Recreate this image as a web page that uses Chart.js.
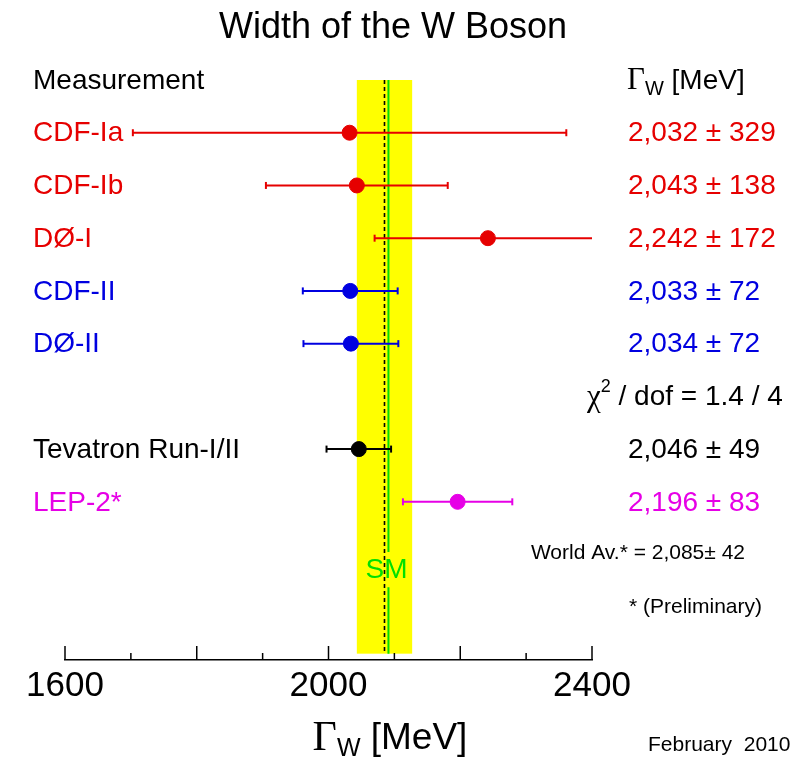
<!DOCTYPE html>
<html>
<head>
<meta charset="utf-8">
<script src="https://cdn.jsdelivr.net/npm/chart.js@4.4.1/dist/chart.umd.min.js"></script>
<style>
html, body { margin: 0; padding: 0; background: #fff; }
#wrap { width: 800px; height: 767px; }
</style>
</head>
<body>
<div id="wrap"><canvas id="wChart"></canvas></div>
<script>
const names = ['CDF-Ia', 'CDF-Ib', 'DØ-I', 'CDF-II', 'DØ-II', 'Tevatron Run-I/II', 'LEP-2*'];
const values = [2032, 2043, 2242, 2033, 2034, 2046, 2196];
const errors = [329, 138, 172, 72, 72, 49, 83];
const rows = [1, 2, 3, 4, 5, 7, 8];
const colors = ['#e60000', '#e60000', '#e60000', '#0000e0', '#0000e0', '#000000', '#e600e6'];
const worldAvg = 2085;
const worldErr = 42;
const smValue = 2091;
const xTicks = [1600, 2000, 2400];

const SANS = '"Liberation Sans", Arial, sans-serif';
const SERIF = '"Liberation Serif", "Times New Roman", serif';

// error bars: one line per measurement, vertical caps at both ends
const barSets = names.map((n, i) => ({
    type: 'line',
    data: [{ x: values[i] - errors[i], y: rows[i] }, { x: values[i] + errors[i], y: rows[i] }],
    borderColor: colors[i],
    borderWidth: 2,
    pointStyle: 'line',
    rotation: 90,
    pointRadius: 3.5,
    pointBorderColor: colors[i],
    pointBorderWidth: 2,
    order: 1
}));

const centerSet = {
    type: 'scatter',
    data: values.map((v, i) => ({ x: v, y: rows[i] })),
    pointRadius: 7.5,
    pointBackgroundColor: colors,
    pointBorderColor: colors,
    order: 0
};

const avgLine = {
    type: 'line',
    data: [{ x: worldAvg, y: 0 }, { x: worldAvg, y: 10.88 }],
    borderColor: '#000',
    borderWidth: 1.6,
    borderDash: [4, 3],
    pointRadius: 0,
    order: 3
};
const smLineTop = {
    type: 'line',
    data: [{ x: smValue, y: 0 }, { x: smValue, y: 8.95 }],
    borderColor: '#00e000',
    borderWidth: 2,
    pointRadius: 0,
    order: 2
};
const smLineBottom = {
    type: 'line',
    data: [{ x: smValue, y: 9.62 }, { x: smValue, y: 10.88 }],
    borderColor: '#00e000',
    borderWidth: 2,
    pointRadius: 0,
    order: 2
};

function richText(ctx, x, y, parts, align) {
    let w = 0;
    parts.forEach(p => { ctx.font = p.f; w += ctx.measureText(p.t).width; });
    let cx = align === 'center' ? x - w / 2 : x;
    ctx.textAlign = 'left';
    ctx.textBaseline = 'middle';
    parts.forEach(p => {
        ctx.font = p.f;
        ctx.fillStyle = p.c || '#000';
        ctx.fillText(p.t, cx, y + (p.dy || 0));
        cx += ctx.measureText(p.t).width;
    });
}

const bandPlugin = {
    id: 'band',
    beforeDatasetsDraw(chart) {
        const { ctx, chartArea, scales: { x, y } } = chart;
        const x0 = x.getPixelForValue(worldAvg - worldErr);
        const x1 = x.getPixelForValue(worldAvg + worldErr);
        const yb = y.getPixelForValue(10.88);
        ctx.save();
        ctx.fillStyle = '#ffff00';
        ctx.fillRect(x0, chartArea.top, x1 - x0, yb - chartArea.top);
        ctx.restore();
    }
};

const textPlugin = {
    id: 'texts',
    afterDraw(chart) {
        const { ctx, chartArea, scales: { x, y } } = chart;
        ctx.save();

        // upward ticks on the x axis
        ctx.strokeStyle = '#000';
        ctx.lineWidth = 1.5;
        for (let v = 1600; v <= 2400; v += 100) {
            const px = x.getPixelForValue(v);
            const len = v % 200 === 0 ? 14 : 7;
            ctx.beginPath();
            ctx.moveTo(px, chartArea.bottom);
            ctx.lineTo(px, chartArea.bottom - len);
            ctx.stroke();
        }

        ctx.fillStyle = '#000';
        ctx.textBaseline = 'middle';
        ctx.textAlign = 'center';
        ctx.font = '36px ' + SANS;
        ctx.fillText('Width of the W Boson', 393, 28);

        ctx.textAlign = 'left';
        ctx.font = '28px ' + SANS;
        ctx.fillText('Measurement', 33, y.getPixelForValue(0) + 1);
        richText(ctx, 627, y.getPixelForValue(0) + 1, [
            { t: 'Γ', f: '31px ' + SERIF },
            { t: 'W', f: '20px ' + SANS, dy: 8 },
            { t: ' [MeV]', f: '28px ' + SANS }
        ]);

        names.forEach((n, i) => {
            const py = y.getPixelForValue(rows[i]) + 1;
            ctx.fillStyle = colors[i];
            ctx.textAlign = 'left';
            ctx.font = '28px ' + SANS;
            ctx.fillText(n, 33, py);
            ctx.fillText(values[i].toLocaleString('en-US') + ' ± ' + errors[i], 628, py);
        });

        richText(ctx, 587, y.getPixelForValue(6) + 1, [
            { t: 'χ', f: '31px ' + SERIF },
            { t: '2', f: '18px ' + SANS, dy: -10 },
            { t: ' / dof = 1.4 / 4', f: '28px ' + SANS }
        ]);

        ctx.fillStyle = '#000';
        ctx.textAlign = 'right';
        ctx.font = '21px ' + SANS;
        ctx.fillText('World Av.* = ' + worldAvg.toLocaleString('en-US') + '± ' + worldErr, 745, y.getPixelForValue(9) - 1);
        ctx.textAlign = 'left';
        ctx.fillText('* (Preliminary)', 629, y.getPixelForValue(10));
        ctx.fillText('February  2010', 648, 745);

        ctx.fillStyle = '#00e000';
        ctx.textAlign = 'center';
        ctx.font = '28px ' + SANS;
        ctx.fillText('SM', x.getPixelForValue(2088), y.getPixelForValue(9.3));

        // axis title
        richText(ctx, 390, 739, [
            { t: 'Γ', f: '42px ' + SERIF },
            { t: 'W', f: '25px ' + SANS, dy: 10 },
            { t: ' [MeV]', f: '37px ' + SANS }
        ], 'center');

        ctx.restore();
    }
};

const wChart = new Chart(document.getElementById('wChart'), {
    data: { datasets: [centerSet, ...barSets, smLineTop, smLineBottom, avgLine] },
    options: {
        responsive: true,
        maintainAspectRatio: false,
        animation: false,
        layout: { padding: { left: 65, right: 208, top: 80, bottom: 0 } },
        plugins: { legend: { display: false }, tooltip: { enabled: false } },
        scales: {
            x: {
                type: 'linear',
                min: 1600,
                max: 2400,
                grid: { display: true, drawOnChartArea: false, drawTicks: false },
                border: { display: true, color: '#000', width: 1.5 },
                ticks: {
                    stepSize: 100,
                    autoSkip: false,
                    maxRotation: 0,
                    padding: 5,
                    color: '#000',
                    font: { family: SANS, size: 35 },
                    callback: v => xTicks.includes(v) ? String(v) : ''
                },
                afterFit(scale) { scale.height = 107; }
            },
            y: {
                type: 'linear',
                min: 0,
                max: 11,
                reverse: true,
                display: false
            }
        }
    },
    plugins: [bandPlugin, textPlugin]
});
</script>
</body>
</html>
